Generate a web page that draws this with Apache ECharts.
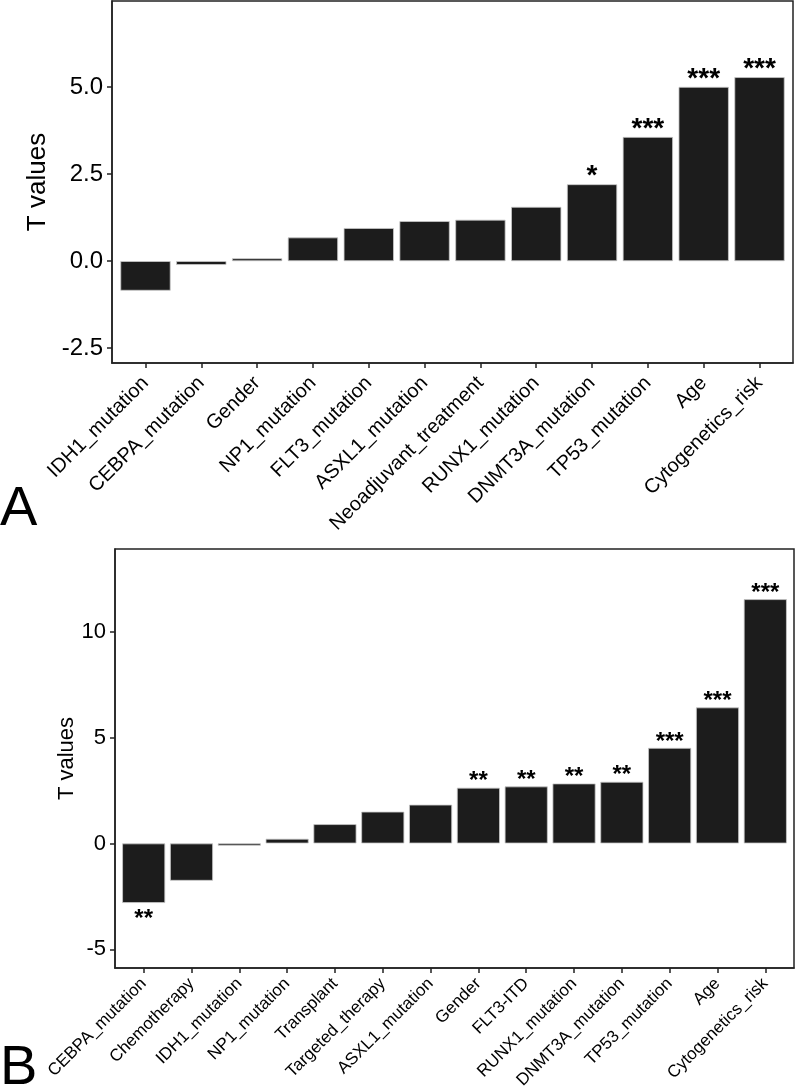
<!DOCTYPE html>
<html>
<head>
<meta charset="utf-8">
<script src="https://cdn.jsdelivr.net/npm/echarts@6/dist/echarts.min.js"></script>
<style>
  html, body { margin: 0; padding: 0; background: #fff; }
  #chart { width: 797px; height: 1092px; }
</style>
</head>
<body>
<div id="chart"></div>
<script>
// panel A
var catsA = ['IDH1_mutation', 'CEBPA_mutation', 'Gender', 'NP1_mutation', 'FLT3_mutation',
    'ASXL1_mutation', 'Neoadjuvant_treatment', 'RUNX1_mutation', 'DNMT3A_mutation',
    'TP53_mutation', 'Age', 'Cytogenetics_risk'];
var valuesA = [-0.85, -0.11, 0.08, 0.68, 0.95, 1.15, 1.19, 1.56, 2.21, 3.57, 5.01, 5.29];
var sigA = ['', '', '', '', '', '', '', '', '*', '***', '***', '***'];
var ticksA = [-2.5, 0, 2.5, 5];

// panel B
var catsB = ['CEBPA_mutation', 'Chemotherapy', 'IDH1_mutation', 'NP1_mutation', 'Transplant',
    'Targeted_therapy', 'ASXL1_mutation', 'Gender', 'FLT3-ITD', 'RUNX1_mutation',
    'DNMT3A_mutation', 'TP53_mutation', 'Age', 'Cytogenetics_risk'];
var valuesB = [-2.81, -1.76, -0.11, 0.22, 0.91, 1.50, 1.83, 2.63, 2.69, 2.83, 2.91, 4.51, 6.42, 11.53];
var sigB = ['**', '', '', '', '', '', '', '**', '**', '**', '**', '***', '***', '***'];
var ticksB = [-5, 0, 5, 10];

var FONT = "'Liberation Sans', Arial, sans-serif";

function idx( arr ) {
    return arr.map( function( d, i ) { return i; } );
}

// bars sit on a value x axis so the outer box can have the ggplot-style padding
function barData( values, sig, fontSize ) {
    return values.map( function( v, i ) {
        return {
            value: [ i, v ],
            label: {
                show: sig[i] !== '',
                position: v < 0 ? 'bottom' : 'top',
                distance: v < 0 ? 4 : -6,
                formatter: sig[i],
                fontSize: fontSize,
                fontWeight: 'bold',
                color: '#000',
                fontFamily: FONT
            }
        };
    } );
}

function xAxisOf( gridIndex, cats, fontSize, margin ) {
    return {
        type: 'value',
        gridIndex: gridIndex,
        min: -0.6,
        max: cats.length - 0.4,
        splitLine: { show: false },
        axisLine: { show: true, onZero: false, lineStyle: { color: '#222', width: 1.5 } },
        axisTick: { show: true, customValues: idx( cats ), length: 5, lineStyle: { color: '#222', width: 1.5 } },
        axisLabel: {
            customValues: idx( cats ),
            formatter: function( v ) { return cats[v]; },
            rotate: 45,
            margin: margin,
            fontSize: fontSize,
            color: '#000',
            fontFamily: FONT
        }
    };
}

function yAxisOf( gridIndex, min, max, ticks, fontSize, nameSize, nameGap, decimals ) {
    return {
        type: 'value',
        gridIndex: gridIndex,
        min: min,
        max: max,
        name: 'T values',
        nameLocation: 'middle',
        nameRotate: 90,
        nameGap: nameGap,
        nameMoveOverlap: false,
        nameTextStyle: { fontSize: nameSize, color: '#000', fontFamily: FONT },
        splitLine: { show: false },
        axisLine: { show: true, onZero: false, lineStyle: { color: '#222', width: 1.5 } },
        axisTick: { show: true, customValues: ticks, length: 5, lineStyle: { color: '#222', width: 1.5 } },
        axisLabel: {
            customValues: ticks,
            formatter: function( v ) { return decimals ? v.toFixed( decimals ) : String( v ); },
            margin: 9,
            fontSize: fontSize,
            color: '#000',
            fontFamily: FONT
        }
    };
}

var barStyle = { color: '#1c1c1c', borderColor: '#c8c8c8', borderWidth: 0.8 };

var myChart = echarts.init( document.getElementById( 'chart' ) );
var option = {
    animation: false,
    backgroundColor: '#fff',
    title: [
        {
            text: 'A', left: 0, top: 482, padding: 0,
            textStyle: { fontSize: 56, fontWeight: 'normal', color: '#000', fontFamily: FONT }
        },
        {
            text: 'B', left: 0, top: 1041, padding: 0,
            textStyle: { fontSize: 56, fontWeight: 'normal', color: '#000', fontFamily: FONT }
        }
    ],
    grid: [
        { left: 112, top: 1, right: 4, bottom: 729, show: true, borderColor: '#222', borderWidth: 1.5 },
        { left: 115, top: 549, right: 3, bottom: 124, show: true, borderColor: '#222', borderWidth: 1.5 }
    ],
    xAxis: [
        xAxisOf( 0, catsA, 20, 17 ),
        xAxisOf( 1, catsB, 17, 13 )
    ],
    yAxis: [
        yAxisOf( 0, -2.93, 7.48, ticksA, 24, 26, 61, 1 ),
        yAxisOf( 1, -5.88, 13.9, ticksB, 22, 22, 37, 0 )
    ],
    series: [
        {
            type: 'bar',
            xAxisIndex: 0,
            yAxisIndex: 0,
            barWidth: '90%',
            itemStyle: barStyle,
            data: barData( valuesA, sigA, 28 )
        },
        {
            type: 'bar',
            xAxisIndex: 1,
            yAxisIndex: 1,
            barWidth: '90%',
            itemStyle: barStyle,
            data: barData( valuesB, sigB, 24 )
        }
    ]
};
myChart.setOption( option );
</script>
</body>
</html>
